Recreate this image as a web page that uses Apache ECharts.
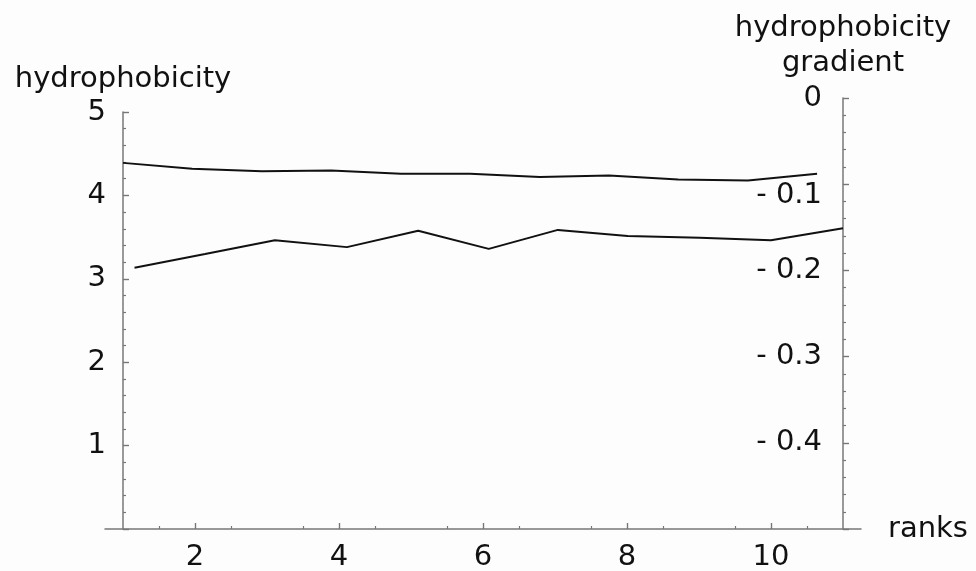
<!DOCTYPE html>
<html>
<head>
<meta charset="utf-8">
<script src="https://cdn.jsdelivr.net/npm/echarts@6/dist/echarts.min.js"></script>
<style>
  html, body { margin: 0; padding: 0; background: #fdfdfd; }
  #main { width: 976px; height: 571px; }
</style>
</head>
<body>
<div id="main"></div>
<script>
// 上面那条线 (左轴 hydrophobicity)
const upperX = [1, 1.96, 2.93, 3.89, 4.86, 5.82, 6.79, 7.75, 8.71, 9.68, 10.64];
const upperY = [4.39, 4.32, 4.29, 4.30, 4.26, 4.26, 4.22, 4.24, 4.19, 4.18, 4.26];
// 下面那条线 (右轴 hydrophobicity gradient)
const lowerX = [1.16, 2.14, 3.11, 4.11, 5.10, 6.08, 7.04, 8.01, 9.01, 10.0, 11.0];
const lowerY = [-0.197, -0.181, -0.165, -0.173, -0.154, -0.175, -0.153, -0.160, -0.162, -0.165, -0.151];
// 坐标轴刻度
const xMajorTicks = [2, 4, 6, 8, 10];
const xMinorTicks = [1.5, 2.5, 3.5, 4.5, 5.5, 6.5, 7.5, 8.5, 9.5, 10.5];

const font = 'DejaVu Sans';
const ink = '#111';
const axisGray = '#777';

function pairs(xs, ys) {
  return xs.map((x, i) => [x, ys[i]]);
}

let chart = echarts.init(document.getElementById('main'));

let option = {
  backgroundColor: '#fdfdfd',
  animation: false,
  textStyle: { fontFamily: font },
  grid: [
    { left: 105, right: 115, top: 112, bottom: 42, containLabel: false, outerBoundsMode: 'none' },
    { left: 105, right: 115, top: 98, bottom: 42, containLabel: false, outerBoundsMode: 'none' }
  ],
  xAxis: [
    {
      type: 'value',
      gridIndex: 0,
      position: 'bottom',
      min: 0.75,
      max: 11.25,
      name: 'ranks',
      nameLocation: 'end',
      nameGap: 27,
      nameTextStyle: { fontSize: 29, color: ink, fontFamily: font, verticalAlign: 'middle' },
      axisLine: { onZero: false, lineStyle: { color: axisGray, width: 1.5 } },
      axisTick: { show: true, inside: true, length: 6, customValues: xMajorTicks, lineStyle: { color: axisGray, width: 1.4 } },
      axisLabel: { customValues: xMajorTicks, margin: 14, fontSize: 29, color: ink, fontFamily: font },
      splitLine: { show: false }
    },
    {
      // 只用来画 x 轴的小刻度
      type: 'value',
      gridIndex: 1,
      position: 'bottom',
      min: 0.75,
      max: 11.25,
      axisLine: { show: false, onZero: false },
      axisTick: { show: true, inside: true, length: 3, customValues: xMinorTicks, lineStyle: { color: axisGray, width: 1.2 } },
      axisLabel: { show: false },
      splitLine: { show: false }
    }
  ],
  yAxis: [
    {
      type: 'value',
      gridIndex: 0,
      position: 'left',
      offset: -18,
      min: 0,
      max: 5,
      interval: 1,
      name: 'hydrophobicity',
      nameLocation: 'end',
      nameGap: 18,
      nameTextStyle: { fontSize: 29, color: ink, fontFamily: font, align: 'center' },
      axisLine: { show: true, onZero: false, lineStyle: { color: axisGray, width: 1.5 } },
      axisTick: { show: true, inside: true, length: 6, lineStyle: { color: axisGray, width: 1.4 } },
      minorTick: { show: true, splitNumber: 5, length: 3, lineStyle: { color: axisGray, width: 1.2 } },
      axisLabel: { showMinLabel: false, margin: 17, fontSize: 29, color: ink, fontFamily: font },
      splitLine: { show: false }
    },
    {
      type: 'value',
      gridIndex: 1,
      position: 'right',
      offset: -18,
      min: -0.5,
      max: 0,
      interval: 0.1,
      name: 'hydrophobicity\ngradient',
      nameLocation: 'end',
      nameGap: 17,
      nameTextStyle: { fontSize: 29, lineHeight: 35, color: ink, fontFamily: font, align: 'center' },
      axisLine: { show: true, onZero: false, lineStyle: { color: axisGray, width: 1.5 } },
      axisTick: { show: true, inside: false, length: 6, lineStyle: { color: axisGray, width: 1.4 } },
      minorTick: { show: true, splitNumber: 5, length: 3, lineStyle: { color: axisGray, width: 1.2 } },
      axisLabel: {
        inside: true,
        showMinLabel: false,
        margin: 21,
        fontSize: 29,
        color: ink,
        fontFamily: font,
        formatter: function (v) {
          if (Math.abs(v) < 1e-9) return '0';
          let s = '- ' + Math.abs(v).toFixed(1);
          // -0.1 在原图里往下挪了一点，避开上面那条线
          if (Math.abs(v + 0.1) < 1e-9) return '{low|' + s + '}';
          return s;
        },
        rich: {
          low: { fontSize: 29, color: ink, fontFamily: font, padding: [22, 0, 0, 0] }
        }
      },
      splitLine: { show: false }
    }
  ],
  series: [
    {
      type: 'line',
      xAxisIndex: 0,
      yAxisIndex: 0,
      data: pairs(upperX, upperY),
      symbol: 'none',
      lineStyle: { color: ink, width: 2 }
    },
    {
      type: 'line',
      xAxisIndex: 1,
      yAxisIndex: 1,
      data: pairs(lowerX, lowerY),
      symbol: 'none',
      lineStyle: { color: ink, width: 2 }
    }
  ]
};

chart.setOption(option);
</script>
</body>
</html>
